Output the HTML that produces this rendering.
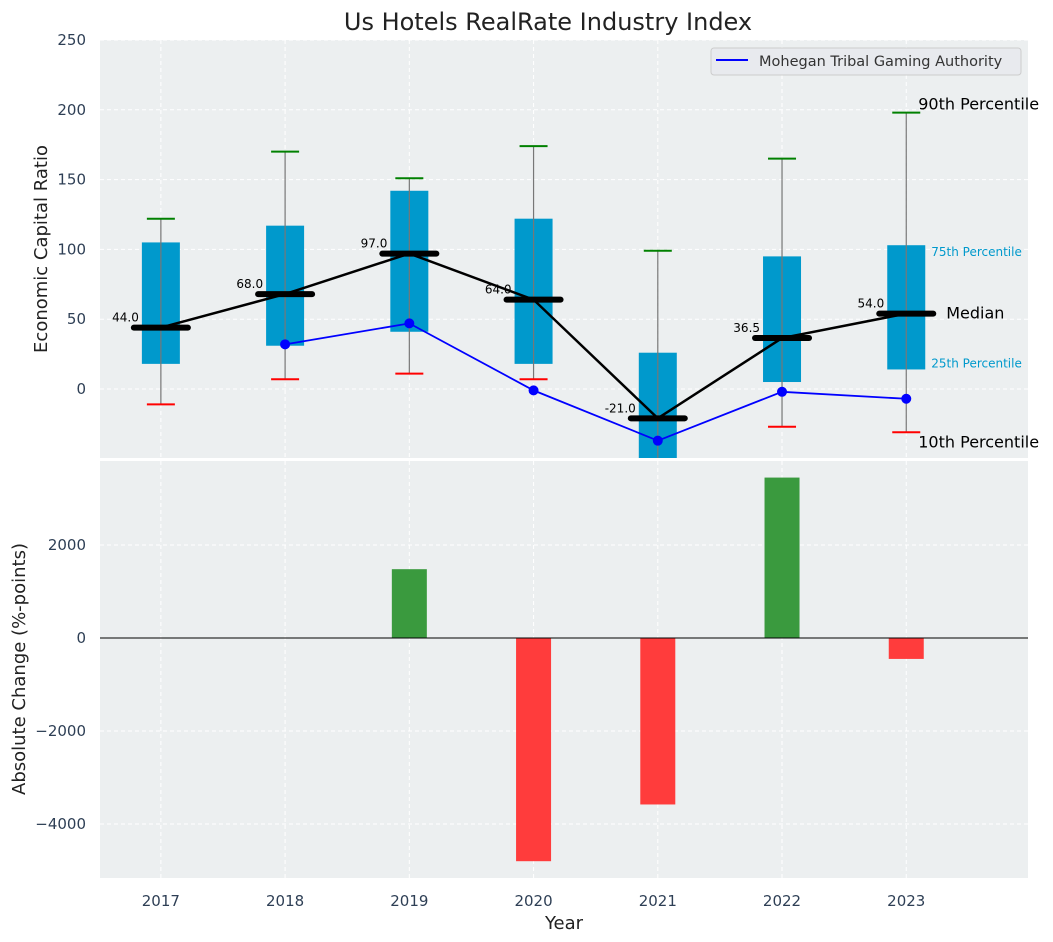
<!DOCTYPE html>
<html><head><meta charset="utf-8"><style>
body{margin:0;background:#fff;}
svg{display:block;font-family:"DejaVu Sans","Liberation Sans",sans-serif;}
</style></head><body>
<svg id="chart" width="1053" height="942"></svg>
<script>
const years=[2017,2018,2019,2020,2021,2022,2023];
const q1=[18,31,41,18,-55,5,14];
const q3=[105,117,142,122,26,95,103];
const p90=[122,170,151,174,99,165,198];
const p10=[-11,7,11,7,-60,-27,-31];
const medians=[44,68,97,64,-21,36.5,54];
const company=[null,32,47,-1,-37,-2,-7];
const changes=[0,0,1480,-4800,-3580,3450,-450];
const topTicks=[0,50,100,150,200,250];
const botTicks=[-4000,-2000,0,2000];

const svg=document.getElementById('chart');
const NS='http://www.w3.org/2000/svg';
function mk(t,a,parent){const e=document.createElementNS(NS,t);for(const k in a)e.setAttribute(k,a[k]);(parent||svg).appendChild(e);return e;}
const L=100,R=1028;
const x=i=>L+(i+0.49)*(R-L)/7.47;
const yT=v=>389-v*1.396;
const yB=v=>638-v*0.0465;
const TT=40,TB=458,BT=461,BB=878;

let e=mk('rect',{x:L,y:TT,width:R-L,height:TB-TT,fill:'#eceff0'});

e=mk('rect',{x:L,y:BT,width:R-L,height:BB-BT,fill:'#eceff0'});


years.forEach((y,i)=>{
  mk('line',{x1:x(i),x2:x(i),y1:TT,y2:TB,stroke:'#fff','stroke-dasharray':'4,3','stroke-width':1});
  mk('line',{x1:x(i),x2:x(i),y1:BT,y2:BB,stroke:'#fff','stroke-dasharray':'4,3','stroke-width':1});
  e=mk('text',{x:x(i),y:906,'text-anchor':'middle','font-size':15,fill:'#2e3f55'});e.textContent=y;
  
});
topTicks.forEach(v=>{
  mk('line',{x1:L,x2:R,y1:yT(v),y2:yT(v),stroke:'#fff','stroke-dasharray':'4,3'});
  e=mk('text',{x:86,y:yT(v)+5,'text-anchor':'end','font-size':15,fill:'#2e3f55'});e.textContent=v;
  
});
botTicks.forEach(v=>{
  mk('line',{x1:L,x2:R,y1:yB(v),y2:yB(v),stroke:'#fff','stroke-dasharray':'4,3'});
  e=mk('text',{x:86,y:yB(v)+5,'text-anchor':'end','font-size':15,fill:'#2e3f55'});e.textContent=(v<0?'\u2212'+(-v):v);
  
});

const defs=mk('defs',{});
const cp=mk('clipPath',{id:'ct'},defs);mk('rect',{x:L,y:TT,width:R-L,height:TB-TT},cp);
const g=mk('g',{'clip-path':'url(#ct)'});
const bw=19,cw=14,mw=27;
years.forEach((y,i)=>{
  const cx=x(i);
  e=mk('rect',{x:cx-bw,y:yT(q3[i]),width:2*bw,height:yT(q1[i])-yT(q3[i]),fill:'#0099cc'},g);
  
  mk('line',{x1:cx,x2:cx,y1:yT(p90[i]),y2:yT(p10[i]),stroke:'#777','stroke-width':1.2},g);
  mk('line',{x1:cx-cw,x2:cx+cw,y1:yT(p90[i]),y2:yT(p90[i]),stroke:'green','stroke-width':2},g);
  mk('line',{x1:cx-cw,x2:cx+cw,y1:yT(p10[i]),y2:yT(p10[i]),stroke:'red','stroke-width':2},g);
});
e=mk('polyline',{points:medians.map((m,i)=>x(i)+','+yT(m)).join(' '),fill:'none',stroke:'#000','stroke-width':2.5},g);

medians.forEach((m,i)=>{
  e=mk('line',{x1:x(i)-mw,x2:x(i)+mw,y1:yT(m),y2:yT(m),stroke:'#000','stroke-width':6,'stroke-linecap':'round'},g);
  
  e=mk('text',{x:x(i)-22,y:yT(m)-6,'text-anchor':'end','font-size':12,fill:'#000'});e.textContent=m.toFixed(1);
  
});
const pts=company.map((c,i)=>c===null?null:[x(i),yT(c)]).filter(p=>p);
e=mk('polyline',{points:pts.map(p=>p.join(',')).join(' '),fill:'none',stroke:'blue','stroke-width':1.8},g);

pts.forEach(p=>{e=mk('circle',{cx:p[0],cy:p[1],r:5,fill:'blue'},g);
  });

const lx=x(6);
[['90th Percentile',lx+12,yT(p90[6])-3,16,'#000'],['10th Percentile',lx+12,yT(p10[6])+15,16,'#000'],
 ['Median',lx+40,yT(medians[6])+5,16,'#000'],['75th Percentile',lx+25,yT(q3[6])+11,12,'#0099cc'],
 ['25th Percentile',lx+25,yT(q1[6])-2,12,'#0099cc']].forEach(a=>{
  e=mk('text',{x:a[1],y:a[2],'font-size':a[3],fill:a[4]});e.textContent=a[0];
  
});

e=mk('rect',{x:711,y:48,width:310,height:27,rx:3,fill:'#e8eaee',stroke:'#ccc'});

mk('line',{x1:716,x2:748,y1:60,y2:60,stroke:'blue','stroke-width':2});
e=mk('text',{x:759,y:66,'font-size':14.5,fill:'#333'});e.textContent='Mohegan Tribal Gaming Authority';


changes.forEach((c,i)=>{
  if(c===0)return;
  e=mk('rect',{x:x(i)-17.5,y:Math.min(yB(c),yB(0)),width:35,height:Math.abs(yB(c)-yB(0)),fill:c>0?'#3a9a3e':'#ff3c3c'});
  
});
mk('line',{x1:L,x2:R,y1:yB(0),y2:yB(0),stroke:'#000','stroke-width':1});

e=mk('text',{x:548,y:30,'text-anchor':'middle','font-size':24,fill:'#222'});e.textContent='Us Hotels RealRate Industry Index';

e=mk('text',{x:47,y:249,'text-anchor':'middle','font-size':18,fill:'#222',transform:'rotate(-90 47 249)'});e.textContent='Economic Capital Ratio';

e=mk('text',{x:25,y:669,'text-anchor':'middle','font-size':18,fill:'#222',transform:'rotate(-90 25 669)'});e.textContent='Absolute Change (%-points)';

e=mk('text',{x:564,y:929,'text-anchor':'middle','font-size':18,fill:'#222'});e.textContent='Year';

</script>
</body></html>
